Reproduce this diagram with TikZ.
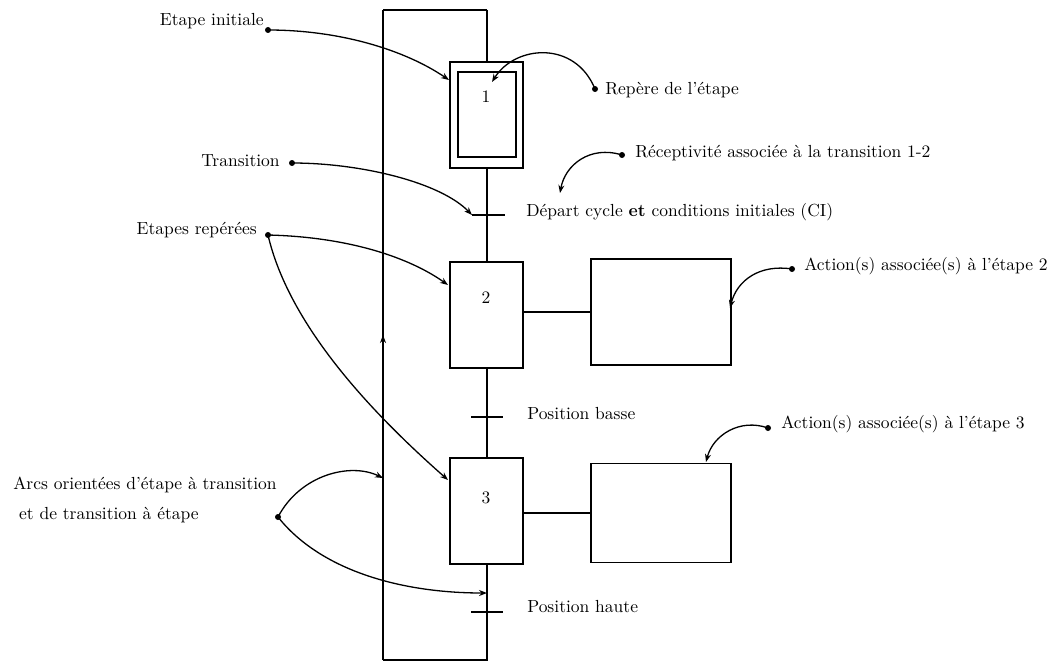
\documentclass[tikz,border=0pt]{standalone}
\usepackage{fontspec}
\usetikzlibrary{arrows.meta,decorations.markings}
\begin{document}
\begin{tikzpicture}[x=1pt,y=-1pt,
  line width=1.5pt,
  lbl/.style={scale=1.75,font=\fontsize{10}{17}\selectfont,inner sep=0pt},
  stepbox/.style={draw,rectangle,minimum width=73pt,minimum height=106pt,inner sep=0pt},
  actbox/.style={draw,rectangle,minimum width=140pt,inner sep=0pt},
  callout/.style={line width=1.3pt,-{Stealth[length=8pt,width=6pt]}},
  dot/.style={fill,circle,inner sep=0pt,minimum size=6pt},
  upmark/.style={postaction={decorate},decoration={markings,
    mark=at position 0.5 with {\arrow{Stealth[length=8pt,width=6pt]}}}}]
\useasboundingbox (0,0) rectangle (1056,661);

% steps
\node[stepbox] (s1) at (486.5,115) {};
\node[draw,rectangle,minimum width=58pt,minimum height=85pt,inner sep=0pt] (s1in) at (487,114.5) {};
\node[stepbox] (s2) at (486.5,315) {};
\node[stepbox] (s3) at (486.5,511) {};
\node[lbl] (n1) at (486,97) {1};
\node[lbl] (n2) at (486,298) {2};
\node[lbl] (n3) at (486,498) {3};

% actions
\node[actbox,minimum height=106pt] (a2) at (661,312) {};
\node[actbox,minimum height=99pt] (a3) at (661,513) {};
\draw (s2.east |- a2.west) -- (a2.west);
\draw (s3.east |- a3.west) -- (a3.west);

% transitions
\coordinate (t1w) at (472,215);
\coordinate (t1e) at (505,215);
\coordinate (t2w) at (471,417);
\coordinate (t2e) at (503,417);
\coordinate (t3w) at (471,612);
\coordinate (t3e) at (503,612);
\draw (t1w) -- (t1e);
\draw (t2w) -- (t2e);
\draw (t3w) -- (t3e);

% flow line and return loop
\coordinate (top) at (487,10);
\coordinate (topL) at (383,10);
\coordinate (bot) at (487,660);
\coordinate (botL) at (383,660);
\coordinate (arrowin) at (487,593);
\coordinate (loopin) at (383,478);
\draw (top) -- (top |- s1.north);
\draw (top |- s1.south) -- (top |- s2.north);
\draw (top |- s2.south) -- (top |- s3.north);
\draw (top |- s3.south) -- (bot) -- (botL);
\draw[upmark] (botL) -- (topL);
\draw (topL) -- (top);

% labels
\node[lbl,anchor=east] (l1) at (265,21) {Etape initiale};
\node[lbl,anchor=east] (l2) at (281,161) {Transition};
\node[lbl,anchor=east] (l3) at (258,230) {Etapes repérées};
\node[lbl,anchor=west] (l4) at (604,90) {Repère de l'étape};
\node[lbl,anchor=west] (l5) at (634,153) {Réceptivité associée à la transition 1-2};
\node[lbl,anchor=west] (l6) at (525,212) {Départ cycle \textbf{et} conditions initiales (CI)};
\node[lbl,anchor=west] (l7) at (803,266) {Action(s) associée(s) à l'étape 2};
\node[lbl,anchor=west] (l8) at (780,424) {Action(s) associée(s) à l'étape 3};
\node[lbl,anchor=west] (l9) at (526,414) {Position basse};
\node[lbl,anchor=west] (l10) at (526,607) {Position haute};
\node[lbl,anchor=west,align=left] (l11) at (12,500) {Arcs orientées d'étape à transition\\ \ et de transition à étape};

% callout dots
\node[dot] (d1) at (268,30) {};
\node[dot] (d2) at (292,163) {};
\node[dot] (d3) at (268,235) {};
\node[dot] (d4) at (595,89) {};
\node[dot] (d5) at (622,155) {};
\node[dot] (d7) at (792,269) {};
\node[dot] (d8) at (768,428) {};
\node[dot] (d11) at (278,517) {};
\coordinate (e1) at (449,80);
\coordinate (e2) at (448,285);
\coordinate (e3) at (448,480);
\coordinate (e4) at (492,82);
\coordinate (e5) at (560,193);
\coordinate (e7) at (730,308);
\coordinate (e8) at (706,462);

% callouts
\draw[callout] (d1.center) .. controls (340,30) and (405,50) .. (e1);
\draw[callout] (d2.center) .. controls (360,163) and (440,182) .. (t1w);
\draw[callout] (d3.center) .. controls (350,237) and (410,258) .. (e2);
\draw[callout] (d3.center) .. controls (290,330) and (380,420) .. (e3);
\draw[callout] (d4.center) .. controls (575,40) and (515,45) .. (e4);
\draw[callout] (d5.center) .. controls (590,145) and (565,165) .. (e5);
\draw[callout] (d7.center) .. controls (760,264) and (737,280) .. (e7);
\draw[callout] (d8.center) .. controls (740,418) and (713,435) .. (e8);
\draw[callout] (d11.center) .. controls (300,475) and (350,462) .. (loopin);
\draw[callout] (d11.center) .. controls (320,570) and (400,593) .. (arrowin);
\end{tikzpicture}
\end{document}
